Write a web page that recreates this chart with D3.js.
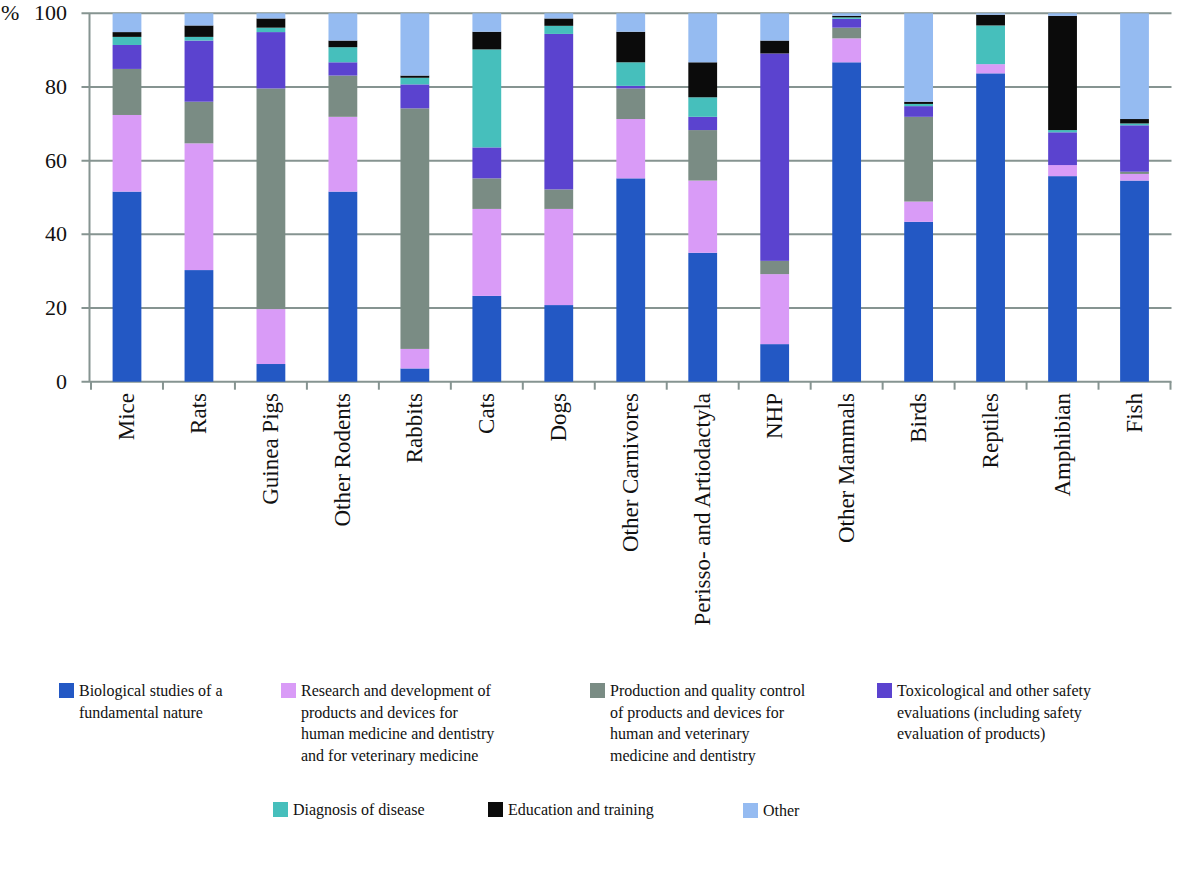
<!DOCTYPE html>
<html>
<head>
<meta charset="utf-8">
<script src="https://cdn.jsdelivr.net/npm/d3@7/dist/d3.min.js"></script>
<style>
  html, body { margin: 0; padding: 0; background: #ffffff; }
  svg { display: block; }
</style>
</head>
<body>
<svg id="chart" width="1200" height="888"></svg>
<script>
// ---- data ----
const categories = ["Mice", "Rats", "Guinea Pigs", "Other Rodents", "Rabbits", "Cats", "Dogs",
  "Other Carnivores", "Perisso- and Artiodactyla", "NHP", "Other Mammals", "Birds", "Reptiles",
  "Amphibian", "Fish"];

const biological    = [51.6, 30.3,  4.8, 51.6,  3.6, 23.3, 20.8, 55.2, 35.0, 10.2, 86.7, 43.4, 83.7, 55.8, 54.6];
const research      = [20.8, 34.4, 14.9, 20.3,  5.3, 23.6, 26.1, 16.1, 19.6, 19.0,  6.5,  5.5,  2.5,  3.0,  1.8];
const production    = [12.5, 11.3, 59.9, 11.2, 65.3,  8.3,  5.3,  8.3, 13.7,  3.6,  2.9, 23.0,  0.0,  0.0,  0.6];
const toxicological = [ 6.5, 16.6, 15.3,  3.6,  6.5,  8.4, 42.2,  0.7,  3.6, 56.3,  2.4,  2.9,  0.0,  8.9, 12.6];
const diagnosis     = [ 2.2,  1.0,  1.2,  4.1,  1.8, 26.6,  2.2,  6.4,  5.3,  0.0,  0.4,  0.6, 10.5,  0.6,  0.5];
const education     = [ 1.3,  3.1,  2.5,  1.8,  0.6,  4.8,  2.0,  8.3,  9.5,  3.5,  0.4,  0.6,  2.9, 31.0,  1.2];
const other         = [ 5.1,  3.3,  1.4,  7.4, 16.9,  5.0,  1.4,  5.0, 13.3,  7.4,  0.7, 24.0,  0.4,  0.7, 28.7];

const yTicks = [0, 20, 40, 60, 80, 100];

const seriesKeys = ["biological", "research", "production", "toxicological", "diagnosis", "education", "other"];
const seriesValues = [biological, research, production, toxicological, diagnosis, education, other];
const seriesColors = ["#2358c4", "#d99bf7", "#7a8c84", "#5b43cf", "#46bfbc", "#0b0b0b", "#95bbf1"];
const legendLabels = [
  ["Biological studies of a", "fundamental nature"],
  ["Research and development of", "products and devices for", "human medicine and dentistry", "and for veterinary medicine"],
  ["Production and quality control", "of products and devices for", "human and veterinary", "medicine and dentistry"],
  ["Toxicological and other safety", "evaluations (including safety", "evaluation of products)"],
  ["Diagnosis of disease"],
  ["Education and training"],
  ["Other"]
];

// ---- chart ----
const svg = d3.select("#chart");
const axisColor = "#869491";
const serif = "'Liberation Serif', 'DejaVu Serif', serif";

const plot = { left: 89.5, right: 1171.5, top: 13.3, bottom: 381.7 };

const x = d3.scaleBand().domain(categories).range([91, 1170.5]).paddingInner(0.6).paddingOuter(0.3);
const y = d3.scaleLinear().domain([0, 100]).range([plot.bottom, plot.top]);

const table = categories.map((c, i) => {
  const row = { category: c };
  seriesKeys.forEach((k, j) => { row[k] = seriesValues[j][i]; });
  return row;
});
const stacked = d3.stack().keys(seriesKeys)(table);

// gridlines
svg.append("g").selectAll("line").data(yTicks).join("line")
  .attr("x1", plot.left - 8).attr("x2", plot.right)
  .attr("y1", d => y(d)).attr("y2", d => y(d))
  .attr("stroke", axisColor).attr("stroke-width", 2);

// y axis line
svg.append("line")
  .attr("x1", plot.left).attr("x2", plot.left)
  .attr("y1", plot.top).attr("y2", plot.bottom)
  .attr("stroke", axisColor).attr("stroke-width", 2);

// bars
svg.append("g").selectAll("g").data(stacked).join("g")
  .attr("fill", (d, i) => seriesColors[i])
  .selectAll("rect").data(d => d).join("rect")
  .attr("x", d => x(d.data.category))
  .attr("width", x.bandwidth())
  .attr("y", d => y(d[1]))
  .attr("height", d => Math.max(0, y(d[0]) - y(d[1])));

// x axis tick marks at category boundaries
const step = x.step();
const boundaries = categories.map(c => x(c) - (step - x.bandwidth()) / 2);
boundaries.push(boundaries[boundaries.length - 1] + step);
svg.append("g").selectAll("line").data(boundaries).join("line")
  .attr("x1", d => d).attr("x2", d => d)
  .attr("y1", plot.bottom).attr("y2", plot.bottom + 8)
  .attr("stroke", axisColor).attr("stroke-width", 2);

// x labels
svg.append("g").selectAll("text").data(categories).join("text")
  .attr("transform", d => `translate(${x(d) + x.bandwidth() / 2 + 7},393) rotate(-90)`)
  .attr("text-anchor", "end")
  .attr("font-family", serif)
  .attr("font-size", 23)
  .attr("fill", "#111")
  .text(d => d);

// y tick labels
svg.append("g").selectAll("text").data(yTicks).join("text")
  .attr("x", 67).attr("y", d => y(d) + 7)
  .attr("text-anchor", "end")
  .attr("font-family", serif)
  .attr("font-size", 22)
  .attr("fill", "#111")
  .text(d => d);

svg.append("text")
  .attr("x", 1).attr("y", y(100) + 7)
  .attr("font-family", serif)
  .attr("font-size", 22)
  .attr("fill", "#111")
  .text("%");

// legend
const legendPos = [
  { sx: 59, sy: 683 }, { sx: 281, sy: 683 }, { sx: 590, sy: 683 }, { sx: 877, sy: 683 },
  { sx: 273, sy: 802 }, { sx: 488, sy: 802 }, { sx: 743, sy: 803 }
];
const lg = svg.append("g");
legendLabels.forEach((lines, i) => {
  const p = legendPos[i];
  lg.append("rect").attr("x", p.sx).attr("y", p.sy).attr("width", 15).attr("height", 15)
    .attr("fill", seriesColors[i]);
  const t = lg.append("text")
    .attr("font-family", serif).attr("font-size", 16).attr("fill", "#111");
  lines.forEach((ln, k) => {
    t.append("tspan").attr("x", p.sx + 20).attr("y", p.sy + 13 + k * 21.7).text(ln);
  });
});
</script>
</body>
</html>
